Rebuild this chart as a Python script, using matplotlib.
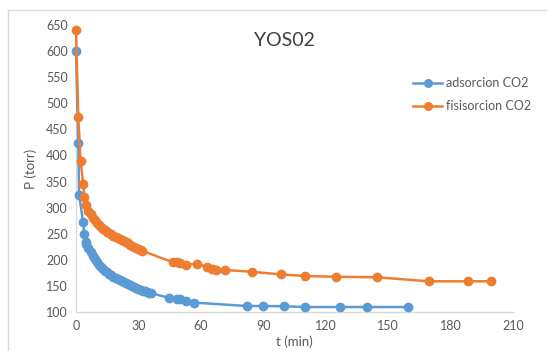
import matplotlib.pyplot as plt
from matplotlib.lines import Line2D

# adsorcion CO2
t_ads = [0, 1.1, 1.5, 3.4, 4.0, 4.6, 5, 6, 7, 8, 9, 10, 11, 12, 13, 14, 15, 16, 17, 18,
         19, 20, 21, 22, 23, 24, 25, 26, 27, 28, 29, 30, 31, 32, 33, 34, 35, 36,
         44.8, 48.4, 50, 52.9, 56.9, 82, 89.7, 100, 110, 126.9, 139.7, 159.4]
p_ads = [600, 423, 324, 273, 249, 235, 231, 223, 215, 207, 201, 196, 191, 187, 183, 179,
         176, 173, 170, 167, 165, 163, 161, 159, 157, 155, 153, 151, 149, 148, 146, 144,
         143, 141, 140, 139, 137, 136,
         127, 125, 124, 121, 118, 111.5, 111.5, 111, 109.5, 109.5, 109.5, 109.5]

# fisisorcion CO2
t_fis = [0, 1.1, 2.2, 3.5, 4.0, 5, 6, 7, 8, 9, 10, 11, 12, 13, 14, 15, 16, 17, 18, 19,
         20, 21, 22, 23, 24, 25, 26, 27, 28, 29, 30, 31, 31.9,
         46.8, 48.5, 50, 52.9, 58, 62.8, 65.2, 67.1, 71.8, 84.7, 98.5, 110, 124.8, 144.8,
         169.6, 188.5, 199.3]
p_fis = [640, 473, 389, 345, 321, 305, 294, 287, 281, 276, 271, 267, 263, 260, 257, 254,
         252, 249, 246, 244, 242, 240, 238, 236, 234, 232, 229, 227, 225, 223, 221, 219, 217,
         195, 195, 194.5, 191, 192, 187, 182.5, 180.5, 180.5, 177, 172, 169, 167.5, 166.5,
         158.8, 158.8, 158.8]

blue = '#5B9BD5'
orange = '#ED7D31'
grey_txt = '#595959'

plt.rcParams['font.family'] = ['Lato', 'DejaVu Sans']

fig = plt.figure(figsize=(5.47, 3.51), dpi=100)
ax = fig.add_axes([76 / 547, 39 / 351, 437 / 547, 287 / 351])

ax.plot(t_ads, p_ads, color=blue, lw=1.8, marker='o', ms=6, label='adsorcion CO2',
        clip_on=False, zorder=3)
ax.plot(t_fis, p_fis, color=orange, lw=1.8, marker='o', ms=6, label='fisisorcion CO2',
        clip_on=False, zorder=4)

ax.set_xlim(0, 210)
ax.set_ylim(100, 650)
ax.set_xticks(range(0, 211, 30))
ax.set_yticks(range(100, 651, 50))
ax.tick_params(length=0, labelsize=9, colors=grey_txt, pad=6)
for side in ['top', 'right']:
    ax.spines[side].set_visible(False)
for side in ['left', 'bottom']:
    ax.spines[side].set_color('#D9D9D9')
    ax.spines[side].set_linewidth(1)

ax.set_xlabel('t (min)', fontsize=9.5, color=grey_txt, labelpad=2)
ax.set_ylabel('P (torr)', fontsize=9.5, color=grey_txt, labelpad=6)

fig.text(284 / 547, 1 - 40 / 351, 'YOS02', fontsize=14, color='#404040',
         ha='center', va='center')

handles = [Line2D([], [], color=blue, lw=1.8, marker='o', ms=5.5),
           Line2D([], [], color=orange, lw=1.8, marker='o', ms=5.5)]
fig.legend(handles, ['adsorcion CO2', 'fisisorcion CO2'], loc='upper left',
           bbox_to_anchor=(402 / 547, 1 - 66 / 351), frameon=False, fontsize=9,
           labelcolor=grey_txt, handlelength=2.3, handletextpad=0.3, labelspacing=0.9)

# chart area frame
fig.add_artist(Line2D([8 / 547, 1], [1 - 10 / 351, 1 - 10 / 351], color='#D9D9D9', lw=1))
fig.add_artist(Line2D([8 / 547, 8 / 547], [0, 1 - 10 / 351], color='#D9D9D9', lw=1))

fig.savefig('out.png', dpi=100)
